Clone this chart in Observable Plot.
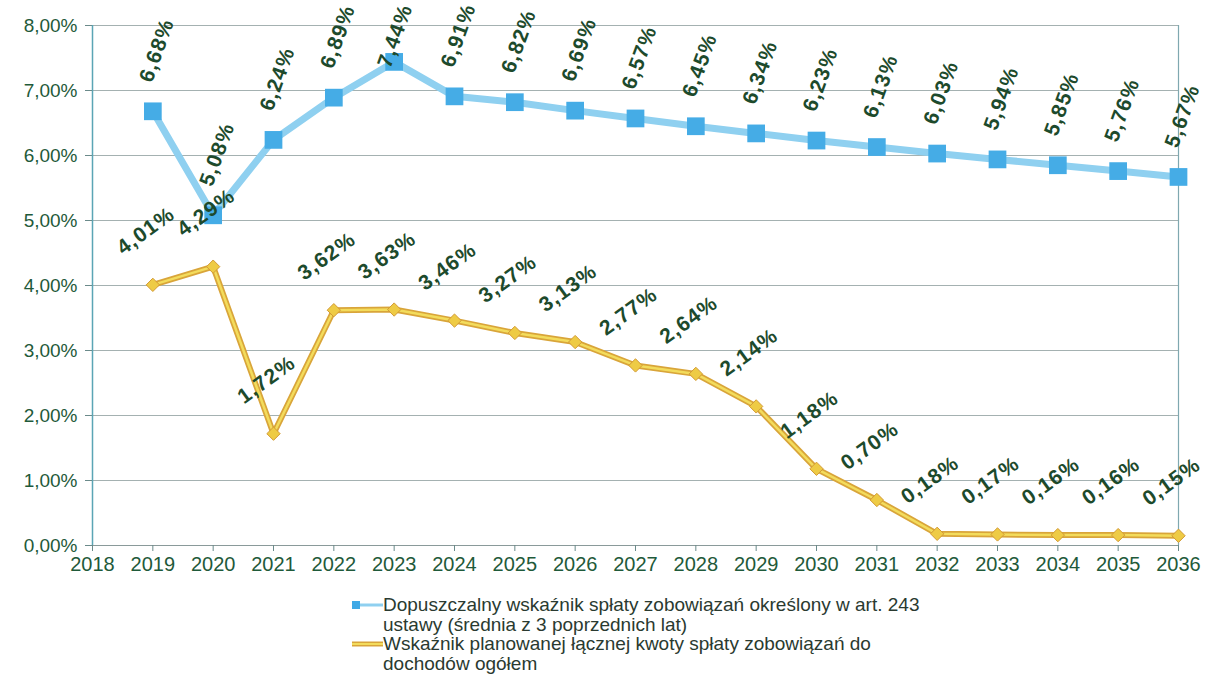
<!DOCTYPE html>
<html>
<head>
<meta charset="utf-8">
<script src="https://cdn.jsdelivr.net/npm/d3@7"></script>
<script src="https://cdn.jsdelivr.net/npm/@observablehq/plot@0.6"></script>
<style>
  html, body { margin: 0; padding: 0; background: #fff; }
  body { width: 1205px; height: 683px; overflow: hidden; font-family: "Liberation Sans", Arial, sans-serif; }
  #chart svg { display: block; }
  .legend { position: absolute; left: 352px; top: 595px; font-size: 19px; line-height: 19.5px; color: #2a3a30; }
  .legend .row { position: relative; padding-left: 31px; }
  .legend .sw { position: absolute; left: 0; top: 6px; width: 31px; height: 8px; }
</style>
</head>
<body>
<div id="chart"></div>
<div class="legend">
  <div class="row"><svg class="sw" width="31" height="8"><line x1="0" y1="4" x2="31" y2="4" stroke="#8fd0f0" stroke-width="3"/><rect x="0" y="0" width="8" height="8" fill="#3fa9e6"/></svg>Dopuszczalny wskaźnik spłaty zobowiązań określony w art. 243<br>ustawy (średnia z 3 poprzednich lat)</div>
  <div class="row"><svg class="sw" width="31" height="8"><line x1="0" y1="4" x2="31" y2="4" stroke="#d9a53a" stroke-width="5"/><line x1="0" y1="4" x2="31" y2="4" stroke="#f3dc5c" stroke-width="2"/></svg>Wskaźnik planowanej łącznej kwoty spłaty zobowiązań do<br>dochodów ogółem</div>
</div>
<script>
const years = [2019, 2020, 2021, 2022, 2023, 2024, 2025, 2026, 2027, 2028, 2029, 2030, 2031, 2032, 2033, 2034, 2035, 2036];
const allowed = [6.68, 5.08, 6.24, 6.89, 7.44, 6.91, 6.82, 6.69, 6.57, 6.45, 6.34, 6.23, 6.13, 6.03, 5.94, 5.85, 5.76, 5.67];
const planned = [4.01, 4.29, 1.72, 3.62, 3.63, 3.46, 3.27, 3.13, 2.77, 2.64, 2.14, 1.18, 0.70, 0.18, 0.17, 0.16, 0.16, 0.15];
const xTicks = d3.range(2018, 2037);
const yTicks = [0, 1, 2, 3, 4, 5, 6, 7, 8];

const blue = years.map((y, i) => ({year: y, v: allowed[i]}));
const yellow = years.map((y, i) => ({year: y, v: planned[i]}));
const fmt = v => v.toFixed(2).replace(".", ",") + "%";

const labelColor = "#1d4a2c";
const tickColor = "#1f5a3a";

const chart = Plot.plot({
  width: 1205,
  height: 590,
  marginLeft: 92,
  marginRight: 27,
  marginTop: 25,
  marginBottom: 45,
  style: {fontFamily: "Liberation Sans, Arial, sans-serif", background: "#fff", overflow: "visible"},
  x: {domain: [2018, 2036], ticks: xTicks, tickFormat: d => String(d), label: null},
  y: {domain: [0, 8], ticks: yTicks, tickFormat: d => fmt(d), label: null},
  marks: [
    Plot.gridY(yTicks, {stroke: "#9aa8a8", strokeOpacity: 0.9, strokeWidth: 1.2}),
    Plot.ruleX([2036], {stroke: "#7fa8b0", strokeWidth: 1.2}),
    Plot.ruleX([2018], {stroke: "#5aa5b5", strokeWidth: 1.5}),
    Plot.ruleY([0], {stroke: "#8a9a9a", strokeWidth: 1.2}),
    Plot.axisX({ticks: xTicks, tickFormat: d => String(d), tickSize: 6, tickPadding: 5, fontSize: 20, color: tickColor, stroke: "#6a8a8a"}),
    Plot.axisY({ticks: yTicks, tickFormat: d => fmt(d), tickSize: 7, tickPadding: 8, fontSize: 19, color: tickColor, stroke: "#6a8a8a"}),
    // blue series
    Plot.line(blue, {x: "year", y: "v", stroke: "#8fd0f0", strokeWidth: 7}),
    Plot.dot(blue, {x: "year", y: "v", symbol: "square", r: 10, fill: "#45ace6", stroke: "none"}),
    // yellow series
    Plot.line(yellow, {x: "year", y: "v", stroke: "#d9a53a", strokeWidth: 6}),
    Plot.line(yellow, {x: "year", y: "v", stroke: "#f3dc5c", strokeWidth: 2.5}),
    Plot.dot(yellow, {x: "year", y: "v", symbol: "diamond2", r: 6, fill: "#eecb45", stroke: "#d39a35", strokeWidth: 1}),
    // labels
    Plot.text(blue.filter(d => d.v < 7.2), {x: "year", y: "v", text: d => fmt(d.v), rotate: -70, dx: 4, dy: -61, fontSize: 21, fontWeight: "bold", fill: labelColor}),
    Plot.text(blue.filter(d => d.v >= 7.2), {x: "year", y: "v", text: d => fmt(d.v), rotate: -70, dx: 1, dy: -26, fontSize: 21, fontWeight: "bold", fill: labelColor}),
    Plot.text(yellow, {x: "year", y: "v", text: d => fmt(d.v), rotate: -36, dx: -7, dy: -54, fontSize: 21, fontWeight: "bold", fill: labelColor})
  ]
});
d3.select(chart).selectAll('g[aria-label="text"] text').attr("letter-spacing", "1.2px");
document.getElementById("chart").appendChild(chart);
</script>
</body>
</html>
